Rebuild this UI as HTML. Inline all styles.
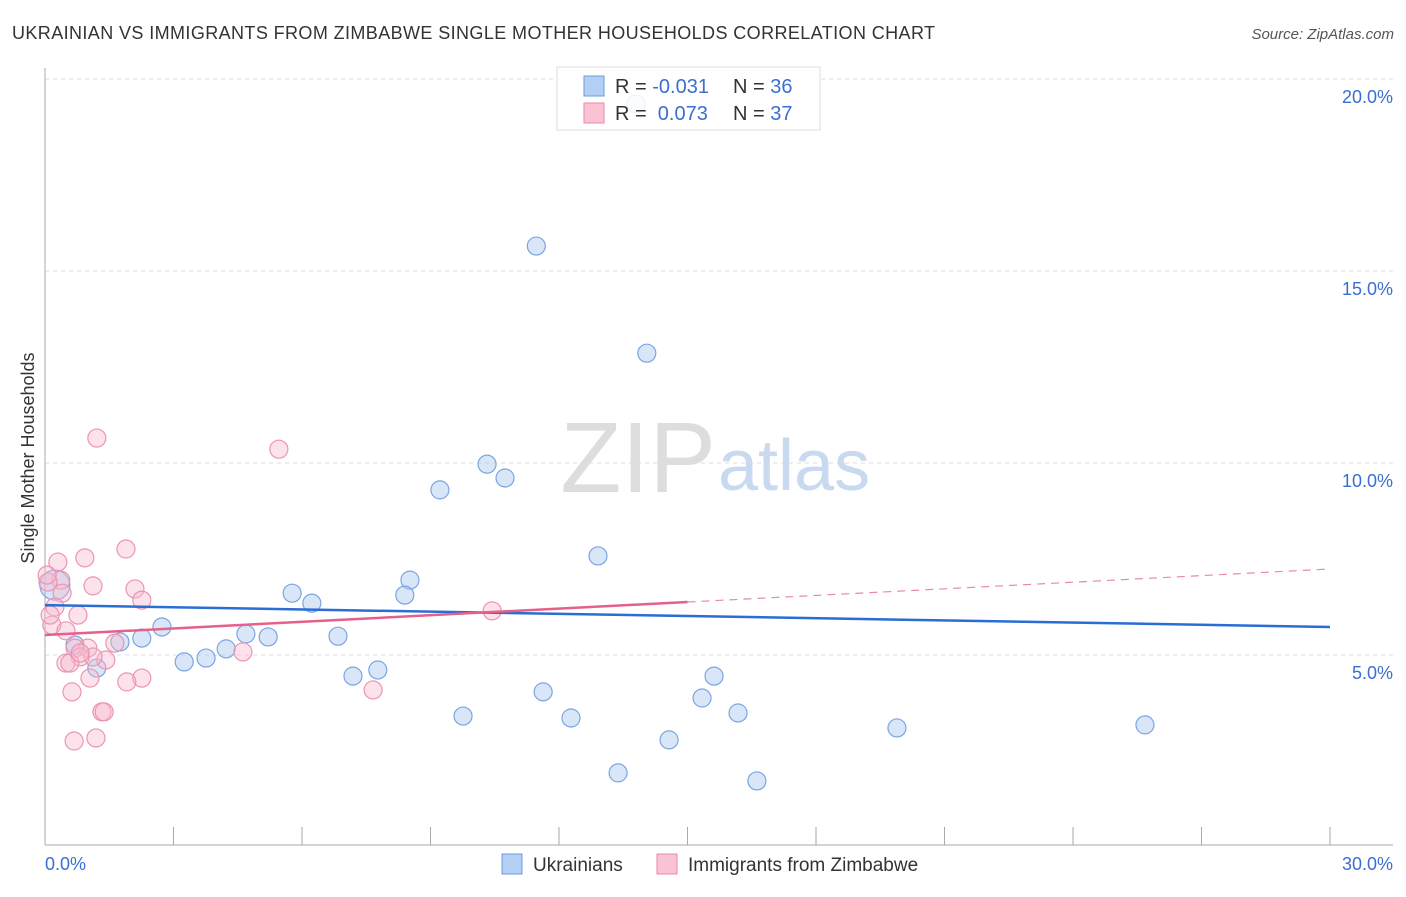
<!DOCTYPE html>
<html><head><meta charset="utf-8"><style>
body{margin:0;background:#fff;font-family:"Liberation Sans",sans-serif}
svg text{font-family:"Liberation Sans",sans-serif}
</style></head><body>
<svg id="chart" width="1406" height="892">
<text x="12" y="39" font-size="18" fill="#333" letter-spacing="0.4">UKRAINIAN VS IMMIGRANTS FROM ZIMBABWE SINGLE MOTHER HOUSEHOLDS CORRELATION CHART</text>
<text x="1394" y="39" font-size="15" fill="#555" text-anchor="end" font-style="italic">Source: ZipAtlas.com</text>
<text x="34" y="458" font-size="18" fill="#333" text-anchor="middle" transform="rotate(-90 34 458)">Single Mother Households</text>
<g id="grid"></g>
<text x="716" y="492" font-size="100" fill="#ddd" text-anchor="end" font-family="Liberation Serif">ZIP</text>
<text x="718" y="490" font-size="72" fill="#c8d9f0">atlas</text>
<g id="marks"></g>
<g id="legend"></g>
</svg>
<script>
const xTicks=[0,3,6,9,12,15,18,21,24,27,30];
const yTicks=[5,10,15,20];
const blueX=[0.23,11.47,14.05,13.80,10.32,10.74,9.22,12.91,8.52,5.77,6.23,8.40,2.73,2.26,1.75,4.69,5.21,6.84,3.25,3.76,4.23,1.21,0.70,7.19,7.77,11.63,15.62,15.34,9.76,12.28,16.18,14.57,19.89,25.68,13.38,16.62];
const blueY=[6.82,15.65,12.86,19.35,9.97,9.61,9.30,7.58,6.95,6.61,6.35,6.56,5.73,5.44,5.34,5.55,5.47,5.49,4.82,4.92,5.16,4.66,5.26,4.45,4.61,4.04,4.45,3.88,3.41,3.36,3.49,2.79,3.10,3.18,1.93,1.72];
const pinkX=[1.21,5.46,1.89,0.30,0.93,1.12,0.37,2.10,2.26,0.40,0.07,0.23,0.77,0.16,0.49,4.62,10.44,1.00,0.70,1.63,1.42,1.12,0.82,0.49,0.58,1.05,2.26,1.91,0.63,7.66,1.33,1.38,1.19,0.68,0.05,0.12,0.82];
const pinkY=[10.65,10.36,7.76,7.42,7.53,6.80,6.95,6.72,6.43,6.61,6.90,6.25,6.04,5.78,5.63,5.08,6.15,5.18,5.18,5.31,4.87,4.95,4.95,4.79,4.79,4.40,4.40,4.30,4.04,4.09,3.52,3.52,2.84,2.76,7.08,6.04,5.05];
const blueTrend=[6.30,5.73];
const pinkTrend=[5.52,7.24];
const pinkSolidEnd=15;
const NS='http://www.w3.org/2000/svg';
const sx=v=>45+v*1285/30;
const sy=v=>847-v*38.4;
function mk(tag,attrs,parent){const e=document.createElementNS(NS,tag);for(const k in attrs)e.setAttribute(k,attrs[k]);parent.appendChild(e);return e;}
const grid=document.getElementById('grid');
yTicks.forEach(t=>{
 const l=mk('line',{x1:45,x2:1393,y1:sy(t),y2:sy(t),stroke:'#ddd','stroke-dasharray':'4 4'},grid);
 
 
 const tx=mk('text',{x:1393,y:sy(t)+24,'font-size':18,fill:'#3a6fd0','text-anchor':'end'},grid);
 tx.textContent=t.toFixed(1)+'%';
 
 
});
const ax=mk('line',{x1:45,x2:45,y1:68,y2:845,stroke:'#aaa'},grid);


const bx=mk('line',{x1:45,x2:1393,y1:845,y2:845,stroke:'#aaa'},grid);


xTicks.forEach(t=>{
 const l=mk('line',{x1:sx(t),x2:sx(t),y1:827,y2:845,stroke:'#aaa'},grid);
 
 
 if(t%30===0){
  const tx=mk('text',{x:t===0?45:1393,y:870,'font-size':18,fill:'#3a6fd0','text-anchor':t===0?'start':'end'},grid);
  tx.textContent=t.toFixed(1)+'%';
  
  
 }
});
const marks=document.getElementById('marks');
blueX.forEach((x,i)=>{
 const c=mk('circle',{cx:sx(x),cy:sy(blueY[i]),r:i===0?15:9,fill:'rgba(170,200,240,0.45)',stroke:'#7aa5e3','stroke-width':1.2},marks);
 
 
});
pinkX.forEach((x,i)=>{
 const c=mk('circle',{cx:sx(x),cy:sy(pinkY[i]),r:9,fill:'rgba(247,185,205,0.4)',stroke:'#eb95b0','stroke-width':1.2},marks);
 
 
});
const bl=mk('line',{x1:sx(0),y1:sy(blueTrend[0]),x2:sx(30),y2:sy(blueTrend[1]),stroke:'#2a6dd4','stroke-width':2.5},marks);


const pm=pinkTrend[0]+(pinkTrend[1]-pinkTrend[0])*pinkSolidEnd/30;
const pl=mk('line',{x1:sx(0),y1:sy(pinkTrend[0]),x2:sx(pinkSolidEnd),y2:sy(pm),stroke:'#e5608a','stroke-width':2.5},marks);


const pd=mk('line',{x1:sx(pinkSolidEnd),y1:sy(pm),x2:sx(30),y2:sy(pinkTrend[1]),stroke:'#e88aa8','stroke-width':1.2,'stroke-dasharray':'8 6'},marks);


const lg=document.getElementById('legend');
const box=mk('rect',{x:557,y:67,width:263,height:63,fill:'rgba(255,255,255,0.85)',stroke:'#ddd'},lg);


[['rgba(160,195,240,0.8)','#6b9be0','-0.031','36',86],['rgba(247,180,200,0.8)','#e88aa8',' 0.073','37',113]].forEach(r=>{
 const s=mk('rect',{x:584,y:r[4]-10,width:20,height:20,fill:r[0],stroke:r[1]},lg);
 
 
 const t=mk('text',{x:615,y:r[4]+7,'font-size':20,fill:'#333'},lg);
 t.innerHTML='R = <tspan fill="#3a6fd0" xml:space="preserve">'+r[2]+'</tspan><tspan x="733">N = </tspan><tspan fill="#3a6fd0">'+r[3]+'</tspan>';
 
 
});
[[502,'rgba(160,195,240,0.8)','#6b9be0','Ukrainians'],[657,'rgba(247,180,200,0.8)','#e88aa8','Immigrants from Zimbabwe']].forEach(r=>{
 const s=mk('rect',{x:r[0],y:854,width:20,height:20,fill:r[1],stroke:r[2]},lg);
 
 
 const t=mk('text',{x:r[0]+31,y:871,'font-size':19,fill:'#333'},lg);
 t.textContent=r[3];
 
 
});
</script>
</body></html>
